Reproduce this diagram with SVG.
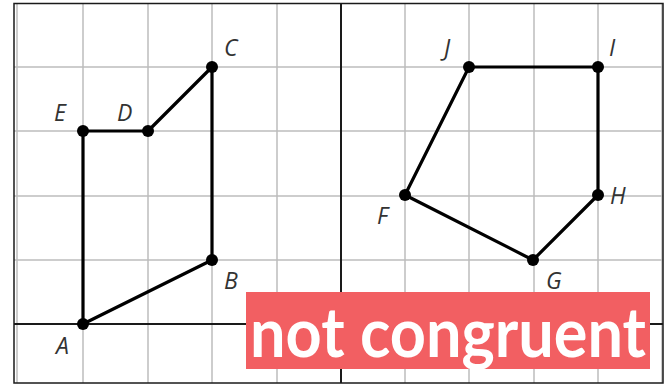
<svg xmlns="http://www.w3.org/2000/svg" width="671" height="385" viewBox="0 0 671 385">
<style>
.grid{stroke:#bdbdbd;stroke-width:1.5;fill:none}
.axis{stroke:#1a1a1a;stroke-width:2;fill:none}
.edge{stroke:#000;stroke-width:3.2;fill:none;stroke-linecap:round;stroke-linejoin:round}
.pt{fill:#000}
.lbl{font-family:"Open Sans","DejaVu Sans",sans-serif;font-style:italic;font-size:23px;fill:#333}
</style>
<rect width="671" height="385" fill="#fff"/>
<g id="grid">
<path class="grid" d="M17 4V383M83 4V383M148 4V383M212 4V383M277 4V383M405 4V383M469 4V383M534 4V383M598 4V383M662 4V383M14 67H663M14 131H663M14 196H663M14 260H663"/>
<rect x="14" y="3.5" width="649" height="379.5" fill="none" stroke="#1a1a1a" stroke-width="1.5"/>
<path class="axis" d="M14 324H663M341 3V383"/>
</g>
<g id="connectors">
<path class="edge" d="M83 324L212 260L212 67L148 131L83 131Z"/>
<path class="edge" d="M469 67L598 67L598 195L533 260L405 195Z"/>
</g>
<g id="A"><circle class="pt" cx="83" cy="324" r="6"/><text class="lbl" x="56" y="354">A</text></g>
<g id="B"><circle class="pt" cx="212" cy="260" r="6"/><text class="lbl" x="224" y="289">B</text></g>
<g id="C"><circle class="pt" cx="212" cy="67" r="6"/><text class="lbl" x="224" y="56">C</text></g>
<g id="D"><circle class="pt" cx="148" cy="131" r="6"/><text class="lbl" x="117" y="121">D</text></g>
<g id="E"><circle class="pt" cx="83" cy="131" r="6"/><text class="lbl" x="54" y="121">E</text></g>
<g id="F"><circle class="pt" cx="405" cy="195" r="6"/><text class="lbl" x="377" y="224">F</text></g>
<g id="G"><circle class="pt" cx="533" cy="260" r="6"/><text class="lbl" x="546" y="289">G</text></g>
<g id="H"><circle class="pt" cx="598" cy="195" r="6"/><text class="lbl" x="610" y="204">H</text></g>
<g id="I"><circle class="pt" cx="598" cy="67" r="6"/><text class="lbl" x="609" y="56">I</text></g>
<g id="J"><circle class="pt" cx="469" cy="67" r="6"/><text class="lbl" x="444" y="56">J</text></g>
<g id="badge">
<rect x="246" y="292" width="404" height="77" fill="#f25f62"/>
<text x="250" y="357" font-family="Lato,'Open Sans',sans-serif" font-weight="bold" font-size="68" fill="#fff" textLength="396" lengthAdjust="spacingAndGlyphs">not congruent</text>
</g>
</svg>
